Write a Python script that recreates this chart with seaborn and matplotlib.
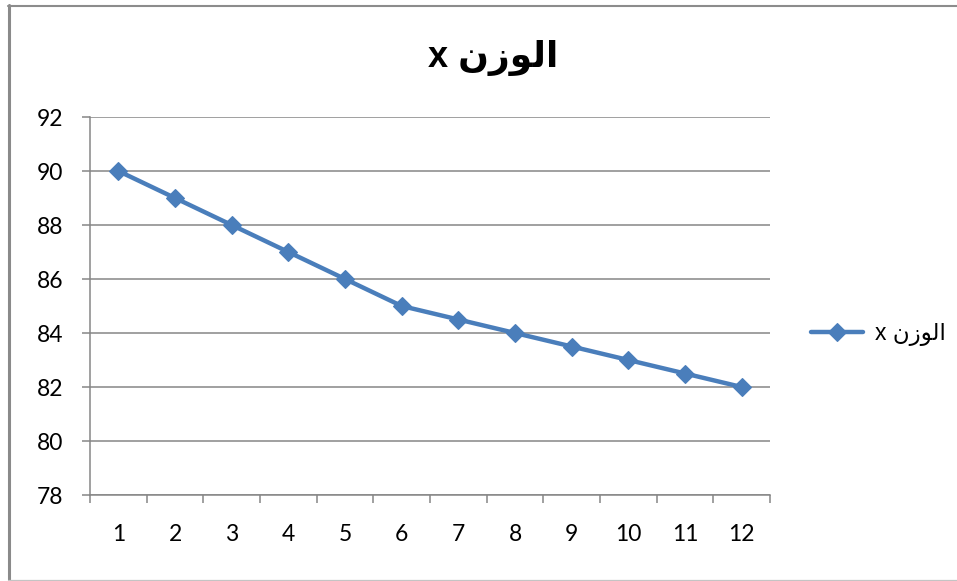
import matplotlib
matplotlib.use("Agg")
import matplotlib.pyplot as plt
from matplotlib.lines import Line2D
from matplotlib.ticker import FixedLocator, NullFormatter
import seaborn as sns

# Data
points = [1, 2, 3, 4, 5, 6, 7, 8, 9, 10, 11, 12]
weight = [90, 89, 88, 87, 86, 85, 84.5, 84, 83.5, 83, 82.5, 82]
y_ticks = [78, 80, 82, 84, 86, 88, 90, 92]
series_name = "الوزن x"
title_text = "الوزن x"

BLUE = "#4A7EBB"
GRID = "#868686"

# Minimal Arabic shaping (contextual forms + RTL ordering) since matplotlib
# has no complex text layout of its own.
# letter: (isolated, final, initial, medial); None = does not join forward
FORMS = {
    "ا": ("\uFE8D", "\uFE8E", None, None),
    "ل": ("\uFEDD", "\uFEDE", "\uFEDF", "\uFEE0"),
    "و": ("\uFEED", "\uFEEE", None, None),
    "ز": ("\uFEAF", "\uFEB0", None, None),
    "ن": ("\uFEE5", "\uFEE6", "\uFEE7", "\uFEE8"),
}


def shape_word(word):
    out = []
    for i, ch in enumerate(word):
        if ch not in FORMS:
            out.append(ch)
            continue
        iso, fin, ini, med = FORMS[ch]
        prev_joins = i > 0 and word[i - 1] in FORMS and FORMS[word[i - 1]][2] is not None
        next_joins = i < len(word) - 1 and word[i + 1] in FORMS and ini is not None
        if prev_joins and next_joins:
            out.append(med)
        elif prev_joins:
            out.append(fin)
        elif next_joins:
            out.append(ini)
        else:
            out.append(iso)
    return "".join(out)


def rtl(text):
    words = text.split(" ")
    vis = [shape_word(w)[::-1] if any(c in FORMS for c in w) else w for w in words]
    return " ".join(reversed(vis))


sns.set_style("white")
plt.rcParams["font.family"] = ["Lato", "DejaVu Sans"]
plt.rcParams["text.color"] = "black"

fig = plt.figure(figsize=(9.57, 5.81), dpi=100)
ax = fig.add_axes([90 / 957, 1 - 495 / 581, 680 / 957, 378 / 581])

sns.lineplot(x=points, y=weight, ax=ax, color=BLUE, linewidth=3.2,
             marker="D", markersize=9, markeredgecolor=BLUE,
             markeredgewidth=0.8, label=rtl(series_name), legend=False)

ax.set_xlim(0.5, 12.5)
ax.set_ylim(78, 92)
ax.set_xlabel("")
ax.set_ylabel("")

# y axis
ax.set_yticks(y_ticks)
ax.set_yticklabels([str(v) for v in y_ticks])
ax.yaxis.grid(True, color=GRID, linewidth=1.1)
ax.xaxis.grid(False)
ax.set_axisbelow(True)
ax.tick_params(axis="y", which="major", direction="out", length=6, width=1.1,
               color=GRID, pad=13, labelsize=16.5, labelcolor="black", left=True)

# x axis: tick marks between categories, labels at category centres
ax.xaxis.set_major_locator(FixedLocator([p - 0.5 for p in points] + [points[-1] + 0.5]))
ax.xaxis.set_major_formatter(NullFormatter())
ax.set_xticks(points, [str(p) for p in points], minor=True)
ax.tick_params(axis="x", which="major", direction="out", length=6, width=1.1,
               color=GRID, bottom=True)
ax.tick_params(axis="x", which="minor", length=0, pad=21, labelsize=16.5,
               labelcolor="black", bottom=True)

for side in ("top", "right"):
    ax.spines[side].set_visible(False)
for side in ("left", "bottom"):
    ax.spines[side].set_color(GRID)
    ax.spines[side].set_linewidth(1.1)

# Legend
handles, labels = ax.get_legend_handles_labels()
leg = fig.legend(handles, labels, loc="center left",
                 bbox_to_anchor=(790 / 957, 1 - 334 / 581), frameon=False,
                 handlelength=2.3, handletextpad=0.5,
                 prop={"family": ["Liberation Sans", "DejaVu Sans"], "size": 16.5})
for t in leg.get_texts():
    t.set_color("black")

# Title
fig.text(493 / 957, 1 - 58 / 581, rtl(title_text), ha="center", va="center",
         fontsize=26, fontweight="bold", color="black",
         family=["Liberation Sans", "DejaVu Sans"])

# Chart frame
fig.add_artist(Line2D([8.5 / 957, 8.5 / 957], [1 - 5 / 581, 1 - 580 / 581],
                      transform=fig.transFigure, color="#8a8a8a", linewidth=2.2))
fig.add_artist(Line2D([8 / 957, 1], [1 - 6 / 581, 1 - 6 / 581],
                      transform=fig.transFigure, color="#8c8c8c", linewidth=1.5))
fig.add_artist(Line2D([8 / 957, 1], [1 - 580 / 581, 1 - 580 / 581],
                      transform=fig.transFigure, color="#c4c4c4", linewidth=0.9))

fig.savefig("out.png", dpi=100, facecolor="white")
